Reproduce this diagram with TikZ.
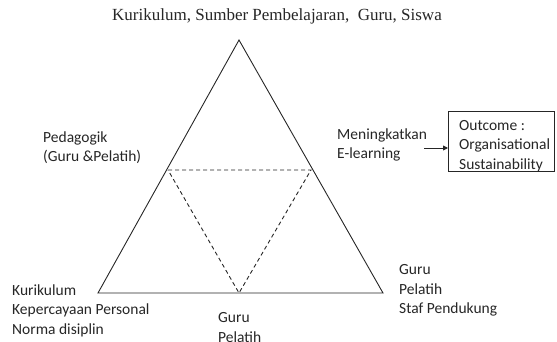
\documentclass[tikz,border=0pt]{standalone}
\usepackage{fontspec}
\setmainfont{Carlito}
\newfontfamily\titlefont{Liberation Serif}
\usetikzlibrary{arrows.meta,calc}
\begin{document}
\begin{tikzpicture}[x=1pt,y=-1pt,
  lbl/.style={inner sep=0pt,anchor=north west,align=left,font=\fontsize{15.5}{19.5}\selectfont,text=black!85},
  edge/.style={draw=black!85,line width=0.9pt},
  dashline/.style={draw=black!85,line width=0.9pt,dash pattern=on 4pt off 3pt}]
\useasboundingbox (0,0) rectangle (557,342);
\coordinate (A) at (239,40);
\coordinate (B) at (98,293);
\coordinate (C) at (383,293);
\coordinate (AB) at (168,170);
\coordinate (AC) at (311,170);
\coordinate (BC) at (239,293);
\draw[edge] (A) -- (B) -- (C) -- cycle;
\draw[dashline] (AB) -- (AC) -- (BC) -- cycle;
\node[inner sep=0pt,font=\titlefont\fontsize{17}{19}\selectfont,text=black!85] (title) at (277,16) {Kurikulum, Sumber Pembelajaran,\ \ Guru, Siswa};
\node[lbl] (ped) at (43,131.5) {Pedagogik\\(Guru \&Pelatih)};
\node[lbl] (men) at (337,128.5) {Meningkatkan\\E-learning};
\node[draw=black!85,line width=0.9pt,minimum width=106pt,minimum height=60pt,anchor=north west,inner sep=0pt] (box) at (448,111) {};
\node[lbl] (out) at (459,120) {Outcome :\\Organisational\\Sustainability};
\node[lbl] (bl) at (12,284.5) {Kurikulum\\Kepercayaan Personal\\Norma disiplin};
\node[lbl] (bm) at (218,312.5) {Guru\\Pelatih};
\node[lbl] (br) at (399,264.5) {Guru\\Pelatih\\Staf Pendukung};
\coordinate (arrS) at (424,148);
\draw[line width=0.9pt,black!85,-{Triangle[length=5pt,width=5pt]}] (arrS) -- (arrS -| box.west);
\end{tikzpicture}
\end{document}
